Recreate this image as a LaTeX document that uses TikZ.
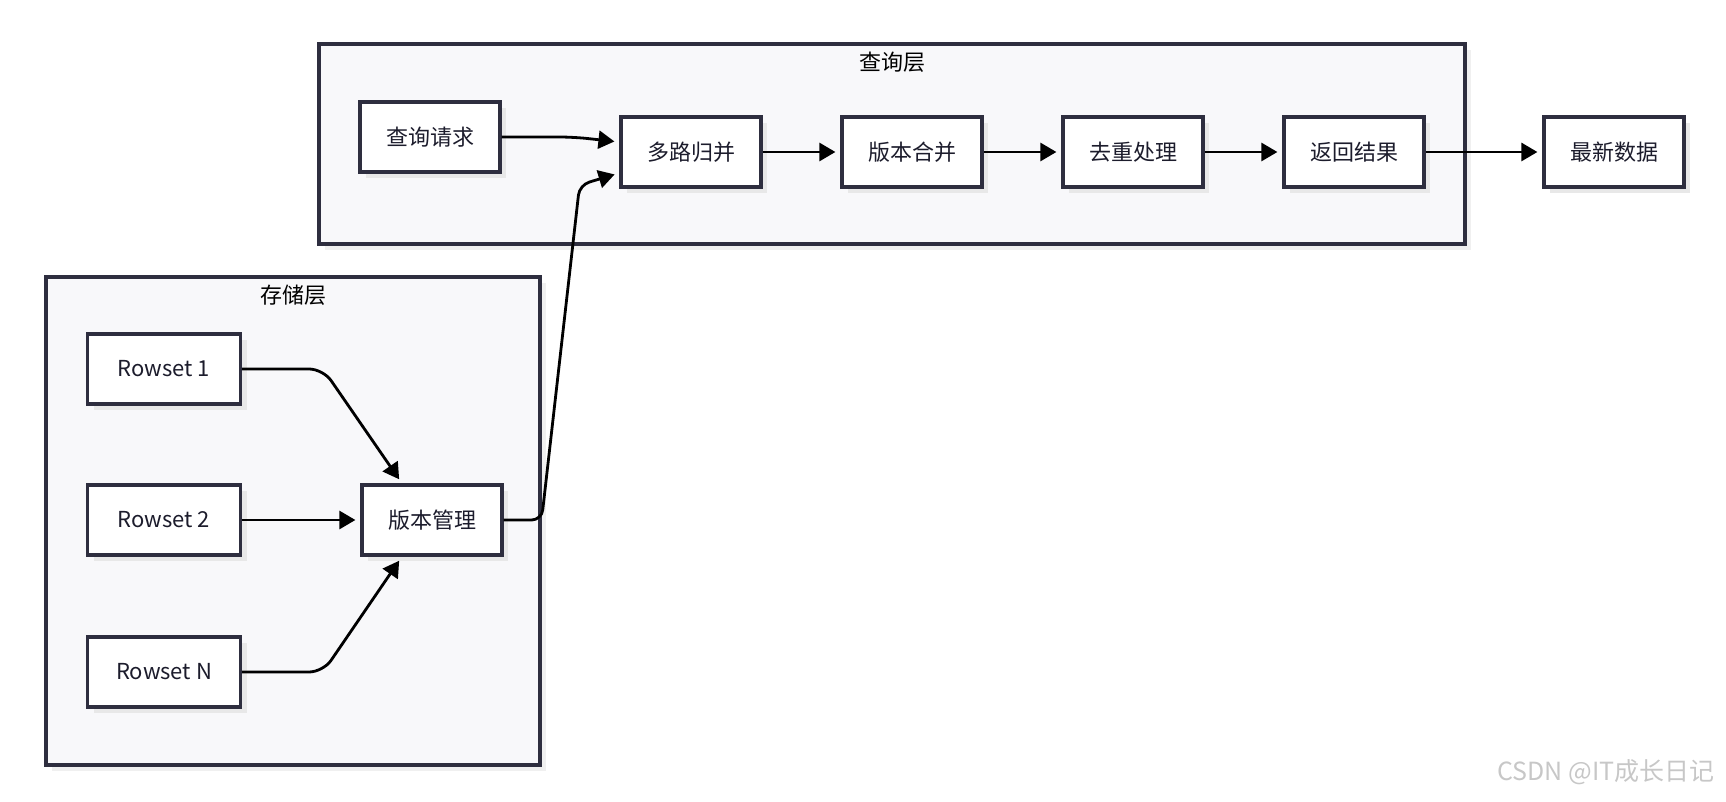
\documentclass[tikz,border=0pt]{standalone}
\usepackage{fontspec}
\setmainfont{Noto Sans CJK SC}
\usepackage{tikz}
\usetikzlibrary{arrows.meta,shadows,calc}
\definecolor{edgecol}{HTML}{2E2E3F}
\definecolor{groupfill}{HTML}{F8F8FA}
\definecolor{textcol}{HTML}{1C1C2C}

\begin{document}
\begin{tikzpicture}[x=1pt,y=-1pt,
    stepbox/.style={draw=edgecol,line width=3.2pt,fill=white,text=textcol,
        minimum width=140pt,minimum height=70pt,inner sep=0pt,
        font=\fontsize{22}{26}\selectfont,
        drop shadow={shadow xshift=6pt,shadow yshift=-6pt,fill=black!9,opacity=1}},
    group/.style={draw=edgecol,line width=3.2pt,fill=groupfill,
        drop shadow={shadow xshift=6pt,shadow yshift=-6pt,fill=black!6,opacity=1}},
    grouptitle/.style={text=black,font=\fontsize{22}{26}\selectfont},
    flow/.style={draw=black,line width=2.8pt,shorten >=5pt,
        -{Triangle[length=16pt,width=18pt]}}]
        \useasboundingbox (0,0) rectangle (1726,802);

        % layers
        \draw[group] (319,44) rectangle (1465,244);
        \node[grouptitle] (qtitle) at (892,62) {查询层};
        \draw[group] (46,277) rectangle (540,765);
        \node[grouptitle] (stitle) at (293,295) {存储层};

        % query layer
        \node[stepbox] (req) at (430,137) {查询请求};
        \node[stepbox] (merge) at (691,152) {多路归并};
        \node[stepbox] (vmerge) at (912,152) {版本合并};
        \node[stepbox] (dedup) at (1133,152) {去重处理};
        \node[stepbox] (ret) at (1354,152) {返回结果};
        \node[stepbox] (latest) at (1614,152) {最新数据};

        % storage layer
        \node[stepbox,minimum width=153pt] (rs1) at (164,369) {Rowset 1};
        \node[stepbox,minimum width=153pt] (rs2) at (164,520) {Rowset 2};
        \node[stepbox,minimum width=153pt] (rsn) at (164,672) {Rowset N};
        \node[stepbox] (vmgr) at (432,520) {版本管理};

        % connectors
        \draw[flow,rounded corners=14pt] (rs1.east) -- ++(81,0) -- ($(vmgr.north)+(-30,0)$);
        \draw[flow] (rs2.east) -- (vmgr.west);
        \draw[flow,rounded corners=14pt] (rsn.east) -- ++(81,0) -- ($(vmgr.south)+(-30,0)$);
        \draw[flow,rounded corners=10pt] (vmgr.east) -- ++(38,0) -- ++(38,-335) -- ($(merge.west)+(0,21)$);
        \draw[flow,rounded corners=14pt] (req.east) -- ++(72,0) -- ($(merge.west)+(0,-10)$);
        \draw[flow] (merge) -- (vmerge);
        \draw[flow] (vmerge) -- (dedup);
        \draw[flow] (dedup) -- (ret);
        \draw[flow] (ret) -- (latest);

        % watermark
        \node[text=black!22,font=\fontsize{25}{30}\selectfont,anchor=east] (mark) at (1718,772) {CSDN @IT成长日记};
    \end{tikzpicture}
\end{document}
